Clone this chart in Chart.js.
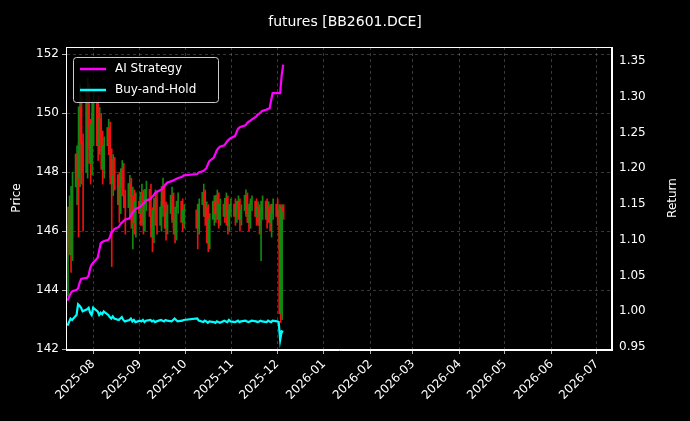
<!DOCTYPE html><html><head><script src="https://cdn.jsdelivr.net/npm/chart.js@4"></script>
<style>body{margin:0;background:#000}#w{width:690px;height:421px}</style></head><body><div id="w"><canvas id="c"></canvas></div><script>
const openP=[145.0,145.5,146.8,145.2,147.5,148.6,147.8,150.2,149.0,148.0,150.8,149.5,148.3,
149.6,150.4,148.9,149.8,149.2,148.1,148.9,149.5,148.6,147.6,148.4,147.9,146.9,147.5,148.1,147.2,146.8,147.6,146.5,147.2,146.3,
147.0,146.6,147.3,146.2,146.9,147.4,146.5,145.8,146.7,147.1,146.2,146.8,147.5,146.9,146.1,146.6,147.2,146.4,145.9,146.8,147.0,146.3,
146.7,146.1,146.9,147.3,146.5,146.8,145.6,146.4,147.0,146.6,147.2,146.4,146.9,146.5,147.1,146.2,146.7,
146.9,146.5,146.8,147.0,146.4,146.7,147.2,146.6,146.3,146.9,147.0,146.5,146.8,146.2,146.6,147.0,146.4,146.8,146.3,146.6,
146.9,146.5,146.7,143.2,146.8];
const closeP=[145.5,146.8,145.2,147.5,148.6,147.8,150.2,149.0,148.0,150.8,149.5,148.3,149.6,
150.4,148.9,149.8,149.2,148.1,148.9,149.5,148.6,147.6,148.4,147.9,146.9,147.5,148.1,147.2,146.8,147.6,146.5,147.2,146.3,147.0,
146.6,147.3,146.2,146.9,147.4,146.5,145.8,146.7,147.1,146.2,146.8,147.5,146.9,146.1,146.6,147.2,146.4,145.9,146.8,147.0,146.3,146.7,
146.1,146.9,147.3,146.5,146.8,145.6,146.4,147.0,146.6,147.2,146.4,146.9,146.5,147.1,146.2,146.7,146.9,
146.5,146.8,147.0,146.4,146.7,147.2,146.6,146.3,146.9,147.0,146.5,146.8,146.2,146.6,147.0,146.4,146.8,146.3,146.6,146.9,
146.5,146.7,143.2,146.8,146.7];
const highP=[146.2,147.2,147.0,148.0,148.9,149.0,151.0,150.6,149.3,151.2,151.0,149.8,150.0,
150.8,150.6,150.2,150.0,149.4,149.2,149.8,149.7,148.8,148.6,148.5,148.0,147.8,148.4,148.3,147.4,147.9,147.8,147.5,147.4,147.3,
147.2,147.6,147.4,147.2,147.7,147.6,146.8,146.9,147.4,147.3,147.0,147.8,147.6,147.0,146.9,147.5,147.3,146.6,147.0,147.3,147.1,146.9,
146.9,147.1,147.6,147.4,147.0,146.9,146.6,147.2,147.1,147.4,147.3,147.1,147.0,147.3,147.2,146.9,147.1,
147.1,147.0,147.2,147.1,146.9,147.4,147.3,146.8,147.1,147.2,147.1,147.0,146.9,146.8,147.2,147.1,147.0,146.9,146.8,147.1,
147.1,146.9,146.9,146.9,146.9];
const lowP=[143.8,145.2,144.6,145.0,146.9,145.8,147.5,147.6,146.0,147.8,148.8,147.6,147.9,
148.9,148.4,148.6,148.7,147.6,147.8,148.6,147.8,144.8,147.2,147.4,146.3,146.6,147.2,146.8,145.9,146.4,146.1,145.4,145.9,145.8,
146.2,146.3,145.9,146.0,146.7,146.1,145.3,145.6,146.5,145.9,146.0,146.5,146.6,145.7,145.9,146.3,146.1,145.6,145.7,146.6,146.0,146.1,
145.4,145.9,146.7,146.2,146.3,145.3,145.4,146.2,146.3,146.4,146.1,146.2,146.3,146.3,145.9,146.0,146.5,
146.2,146.3,146.6,146.0,146.2,146.5,146.3,146.0,146.1,146.7,146.2,146.3,145.9,145.0,146.4,146.1,146.3,146.0,145.8,146.4,
146.2,145.4,142.9,143.0,146.4];
const aiRet=[1.015,1.020,1.025,1.028,1.030,1.032,1.040,1.045,1.046,1.047,1.050,1.060,1.065,
1.068,1.075,1.085,1.095,1.097,1.098,1.100,1.103,1.110,1.112,1.115,1.118,1.122,1.124,1.126,1.128,1.130,1.133,1.138,1.140,1.143,
1.146,1.148,1.150,1.152,1.155,1.157,1.160,1.162,1.165,1.167,1.170,1.172,1.175,1.177,1.180,1.182,1.183,1.184,1.185,1.186,1.188,1.190,
1.192,1.194,1.196,1.198,1.200,1.205,1.210,1.215,1.220,1.225,1.228,1.230,1.232,1.235,1.238,1.240,1.242,
1.245,1.250,1.255,1.257,1.258,1.260,1.263,1.265,1.266,1.268,1.272,1.275,1.276,1.278,1.280,1.282,1.283,1.284,1.295,1.305,
1.305,1.305,1.305,1.330,1.345];
const bhRet=[0.980,0.985,0.990,0.988,0.995,1.010,1.008,1.005,1.000,1.003,1.005,0.998,0.995,
1.005,1.000,0.995,0.998,0.996,1.000,0.995,0.992,0.990,0.993,0.990,0.988,0.990,0.992,0.988,0.986,0.988,0.990,0.986,0.988,0.985,
0.987,0.986,0.988,0.985,0.987,0.988,0.986,0.987,0.985,0.986,0.988,0.987,0.986,0.988,0.987,0.986,0.988,0.990,0.988,0.986,0.987,0.988,
0.990,0.987,0.985,0.987,0.986,0.984,0.986,0.985,0.984,0.986,0.985,0.984,0.987,0.986,0.985,0.988,0.986,
0.985,0.986,0.987,0.985,0.986,0.987,0.986,0.985,0.986,0.987,0.986,0.985,0.986,0.987,0.986,0.985,0.987,0.986,0.985,0.987,
0.986,0.985,0.960,0.972,0.971];
const monthTicks=['2025-08','2025-09','2025-10','2025-11','2025-12','2026-01','2026-02','2026-03','2026-04','2026-05','2026-06','2026-07'];
const priceTicks=[142,144,146,148,150,152];
const retTicks=[0.95,1.00,1.05,1.10,1.15,1.20,1.25,1.30,1.35];

const DAY=86400000;
const dayOf=s=>Date.UTC(+s.slice(0,4),+s.slice(5,7)-1,+(s.slice(8,10)||1))/DAY;
const days=[];
for(let d=dayOf('2025-07-15');days.length<openP.length;d++){const dt=new Date(d*DAY);const wd=dt.getUTCDay();
 if(wd===0||wd===6)continue; if(d>=dayOf('2025-10-01')&&d<=dayOf('2025-10-08'))continue; days.push(d);}
const col=i=>closeP[i]>=openP[i]?'#118811':'#ee1111';
const cols=days.map((d,i)=>col(i));
const grid={color:'rgba(160,160,160,0.5)',lineWidth:0.7};
const fnt={family:'DejaVu Sans',size:12};
Chart.defaults.color='#fff';
const legendPlug={id:'lg',afterDraw(c){const g=c.ctx,a=c.chartArea;g.save();
 const x=73,y=57,w=145,h=45;
 g.fillStyle='rgba(0,0,0,0.85)';g.strokeStyle='#ccc';g.lineWidth=1;g.beginPath();g.roundRect(x+.5,y+.5,w,h,3);g.fill();g.stroke();
 g.font='12px DejaVu Sans';g.textBaseline='middle';
 [['AI Strategy','#ff00ff'],['Buy-and-Hold','#00ffff']].forEach((e,i)=>{const yy=y+12+i*21;g.strokeStyle=e[1];g.lineWidth=2.5;
 g.beginPath();g.moveTo(x+7,yy);g.lineTo(x+33,yy);g.stroke();g.fillStyle='#fff';g.fillText(e[0],x+42,yy);});
 g.textAlign='center';
 g.save();g.translate(17,198);g.rotate(-Math.PI/2);g.fillText('Price',0,0);g.restore();
 g.save();g.translate(673,198);g.rotate(-Math.PI/2);g.fillText('Return',0,0);g.restore();
 g.font='14px DejaVu Sans';g.fillText('futures [BB2601.DCE]',345,22);
 g.strokeStyle='#fff';g.lineWidth=1;g.setLineDash([]);g.strokeRect(a.left+.5,a.top+.5,a.right-a.left-1,a.bottom-a.top-1);
 g.restore();}};
new Chart(document.getElementById('c'),{data:{datasets:[
 {type:'bar',data:days.map((d,i)=>({x:d,y:[lowP[i],highP[i]]})),backgroundColor:cols,barThickness:1,yAxisID:'y',order:3},
 {type:'bar',data:days.map((d,i)=>({x:d,y:[Math.min(openP[i],closeP[i]),Math.max(openP[i],closeP[i])+0.02]})),backgroundColor:cols,barThickness:1.5,yAxisID:'y',order:2},
 {type:'line',data:days.map((d,i)=>({x:d,y:aiRet[i]})),borderColor:'#ff00ff',borderWidth:2.2,pointRadius:0,yAxisID:'y1',order:1},
 {type:'line',data:days.map((d,i)=>({x:d,y:bhRet[i]})),borderColor:'#00ffff',borderWidth:2.2,pointRadius:0,yAxisID:'y1',order:0}]},
 options:{responsive:true,maintainAspectRatio:false,animation:false,layout:{padding:{top:47,left:0,right:0,bottom:0}},
 plugins:{legend:{display:false},tooltip:{enabled:false}},
 scales:{
  x:{type:'linear',offset:false,min:dayOf('2025-07-14'),max:dayOf('2026-07-11'),grid:{...grid,offset:false,tickColor:'#fff',tickLength:4},border:{color:'#fff',dash:[3,3]},
   afterBuildTicks:a=>{a.ticks=monthTicks.map(m=>({value:dayOf(m)}));},
   ticks:{font:fnt,maxRotation:45,minRotation:45,autoSkip:false,callback:v=>{const d=new Date(v*DAY);return d.getUTCFullYear()+'-'+String(d.getUTCMonth()+1).padStart(2,'0');}},
   afterFit:a=>{a.height=71;}},
  y:{position:'left',min:141.97,max:152.25,grid:{...grid,tickColor:'#fff',tickLength:4},border:{color:'#fff',dash:[3,3]},
   afterBuildTicks:a=>{a.ticks=priceTicks.map(v=>({value:v}));},ticks:{font:fnt,callback:v=>v},
   afterFit:a=>{a.width=66;}},
  y1:{position:'right',min:0.946,max:1.3695,grid:{display:false,tickColor:'#fff',tickLength:4},border:{color:'#fff'},
   afterBuildTicks:a=>{a.ticks=retTicks.map(v=>({value:v}));},ticks:{font:fnt,callback:v=>v.toFixed(2)},
   afterFit:a=>{a.width=78;}}}},
 plugins:[legendPlug]});
</script></body></html>
